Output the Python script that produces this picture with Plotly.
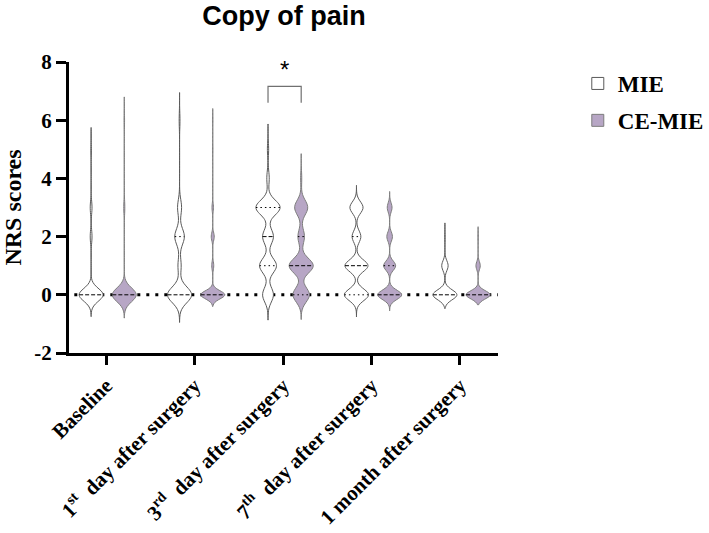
import numpy as np
import plotly.graph_objects as go

# ---------------- data ----------------
CATEGORIES = [
    "Baseline",
    "1<sup>st</sup>  day after surgery",
    "3<sup>rd</sup>  day after surgery",
    "7<sup>th</sup>  day after surgery",
    "1 month after surgery",
]
SCORES = [0, 1, 2, 3, 4, 5, 6]          # NRS score levels
# number of patients at each score level, per time point
MIE_COUNTS = [
    [40, 0, 3, 3, 0, 1, 0],
    [30, 4, 12, 5, 0, 0, 1],
    [9, 14, 9, 20, 2, 1, 0],
    [22, 21, 8, 12, 0, 0, 0],
    [45, 12, 1, 0, 0, 0, 0],
]
CE_MIE_COUNTS = [
    [45, 0, 0, 2, 0, 0, 1],
    [48, 4, 6, 3, 0, 1, 1],
    [15, 22, 6, 12, 1, 0, 0],
    [30, 15, 7, 6, 0, 0, 0],
    [50, 9, 1, 0, 0, 0, 0],
]
SERIES = ["MIE", "CE-MIE"]
Y_TICKS = [-2, 0, 2, 4, 6, 8]
Y_TICK_TEXT = ["-2", "0", "2", "4", "6", "8"]
SIG_LABEL = "*"

# ---------------- style ----------------
MIE_BW = [0.22, 0.27, 0.25, 0.20, 0.17]
CE_BW = [0.24, 0.14, 0.25, 0.16, 0.14]
MIE_EXT = [0.75, 0.95, 0.87, 0.76, 0.47]
CE_EXT = [0.80, 0.40, 0.85, 0.55, 0.34]
OFFSETS = [-0.17, 0.205]
VWIDTH = 0.27
FILLS = ["white", "#b7a6c5"]
LINES = ["#5a5a5a", "#7d7d7d"]
SERIF = "Liberation Serif"
SANS = "Liberation Sans"


def expand(counts):
    return np.repeat(np.array(SCORES, dtype=float), counts)


def halfwidth(vals, bw, span, q):
    """Replicates plotly's violin density scaling to get the half width at q."""
    lo, hi = span
    n = int(np.ceil((hi - lo) / (bw / 3)))
    grid = np.linspace(lo, hi, n + 1)

    def kde(t):
        u = (np.atleast_1d(t)[:, None] - vals[None, :]) / bw
        return np.exp(-0.5 * u * u).sum(axis=1) / (len(vals) * bw * np.sqrt(2 * np.pi))

    return float(kde(q)[0] / kde(grid).max() * VWIDTH / 2)


fig = go.Figure()

all_counts = [MIE_COUNTS, CE_MIE_COUNTS]
all_bw = [MIE_BW, CE_BW]
all_ext = [MIE_EXT, CE_EXT]
quart_lines = []
for s, name in enumerate(SERIES):
    for i, counts in enumerate(all_counts[s]):
        vals = expand(counts)
        pos = i + OFFSETS[s]
        bw = all_bw[s][i]
        span = [vals.min() - all_ext[s][i], vals.max() + all_ext[s][i]]
        fig.add_trace(go.Violin(
            y=vals, x0=pos, name=name, legendgroup=name, showlegend=(i == 0),
            fillcolor=FILLS[s], line=dict(color=LINES[s], width=1),
            width=VWIDTH, bandwidth=bw, spanmode="manual", span=span,
            scalemode="width", scalegroup=f"{name}-{i}",
            points=False, box_visible=False, meanline_visible=False,
            opacity=1, hoverinfo="skip",
        ))
        q1, med, q3 = np.percentile(vals, [25, 50, 75])
        for q, kind in ((q1, "q"), (q3, "q"), (med, "m")):
            if kind == "q" and q == med:
                continue
            hw = halfwidth(vals, bw, span, q)
            quart_lines.append((pos - hw, pos + hw, q, kind))

for x0, x1, q, kind in quart_lines:
    fig.add_trace(go.Scatter(
        x=[x0, x1], y=[q, q], mode="lines", showlegend=False, hoverinfo="skip",
        line=dict(color="black", width=1,
                  dash="4px,2px" if kind == "m" else "1.5px,3px"),
    ))

X_MIN, X_MAX = -0.42, 4.43

# dotted reference line at y = 0
fig.add_shape(type="line", xref="x", yref="y", x0=X_MIN + 0.06, x1=X_MAX, y0=0, y1=0,
              line=dict(color="black", width=3, dash="3px,6px"), layer="below")

# significance bracket (3rd day)
SIG_POS = 2
SIG_LOW, SIG_HIGH, SIG_TEXT_Y = 6.6, 7.16, 7.75
bx0, bx1 = SIG_POS + OFFSETS[0], SIG_POS + OFFSETS[1]
fig.add_shape(type="path", xref="x", yref="y",
              path=f"M{bx0},{SIG_LOW} L{bx0},{SIG_HIGH} L{bx1},{SIG_HIGH} L{bx1},{SIG_LOW}",
              line=dict(color="#707070", width=1.2))
fig.add_annotation(x=(bx0 + bx1) / 2, y=SIG_TEXT_Y, text=SIG_LABEL, showarrow=False,
                   xref="x", yref="y", font=dict(family=SANS, size=24, color="black"),
                   yanchor="middle")

fig.update_layout(
    width=709, height=533,
    margin=dict(l=69, r=211, t=62, b=180, autoexpand=False),
    paper_bgcolor="white", plot_bgcolor="white",
    violinmode="overlay",
    title=dict(text="<b>Copy of pain</b>", x=284 / 709, xanchor="center",
               y=1 - 16 / 533, yanchor="middle",
               font=dict(family=SANS, size=27, color="black")),
    showlegend=True,
    legend=dict(x=1.186, y=1.0, xanchor="left", yanchor="top",
                font=dict(family=SERIF, size=23, color="black", weight="bold"),
                tracegroupgap=4, bgcolor="rgba(0,0,0,0)"),
    xaxis=dict(range=[X_MIN, X_MAX], tickmode="array", tickvals=list(range(len(CATEGORIES))),
               ticktext=CATEGORIES, tickangle=-45, showgrid=False, zeroline=False,
               automargin=False,
               showline=True, linecolor="black", linewidth=3,
               ticks="outside", ticklen=9, tickwidth=3, tickcolor="black",
               tickfont=dict(family=SERIF, size=21, color="black", weight="bold")),
    yaxis=dict(range=[-2, 8], tickmode="array", tickvals=Y_TICKS, ticktext=Y_TICK_TEXT,
               showgrid=False, zeroline=False, automargin=False,
               showline=True, linecolor="black", linewidth=3,
               ticks="outside", ticklen=10, tickwidth=3, tickcolor="black",
               tickfont=dict(family=SERIF, size=21, color="black", weight="bold"),
               title=dict(text="NRS scores", standoff=12,
                          font=dict(family=SERIF, size=24, color="black", weight="bold"))),
)

fig.write_html("out.html")
